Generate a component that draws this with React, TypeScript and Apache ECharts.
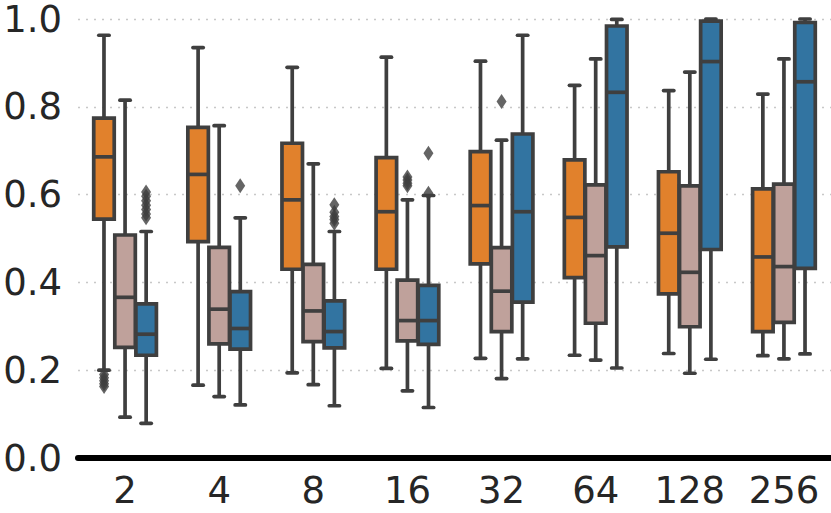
import React, { useEffect, useRef } from "react";
import * as echarts from "echarts";

const categories = ["2", "4", "8", "16", "32", "64", "128", "256"];
const yTicks = [0, 0.2, 0.4, 0.6, 0.8, 1.0];

// [lowerWhisker, q1, median, q3, upperWhisker]
const orangeBoxes = [
  [0.2, 0.544, 0.686, 0.774, 0.963],
  [0.166, 0.493, 0.646, 0.753, 0.935],
  [0.194, 0.43, 0.588, 0.717, 0.89],
  [0.204, 0.43, 0.561, 0.684, 0.913],
  [0.227, 0.442, 0.575, 0.698, 0.904],
  [0.234, 0.411, 0.548, 0.679, 0.849],
  [0.238, 0.374, 0.512, 0.652, 0.837],
  [0.233, 0.288, 0.458, 0.613, 0.829],
];
const pinkBoxes = [
  [0.093, 0.252, 0.366, 0.508, 0.815],
  [0.14, 0.26, 0.339, 0.48, 0.757],
  [0.167, 0.265, 0.335, 0.441, 0.67],
  [0.153, 0.267, 0.313, 0.405, 0.588],
  [0.181, 0.288, 0.38, 0.479, 0.724],
  [0.223, 0.307, 0.461, 0.622, 0.909],
  [0.193, 0.299, 0.423, 0.62, 0.879],
  [0.226, 0.309, 0.436, 0.624, 0.909],
];
const blueBoxes = [
  [0.079, 0.234, 0.282, 0.351, 0.516],
  [0.121, 0.248, 0.295, 0.379, 0.547],
  [0.119, 0.251, 0.288, 0.358, 0.516],
  [0.115, 0.259, 0.313, 0.393, 0.598],
  [0.226, 0.355, 0.561, 0.738, 0.963],
  [0.205, 0.481, 0.833, 0.984, 0.999],
  [0.225, 0.475, 0.903, 0.995, 1.0],
  [0.237, 0.432, 0.857, 0.992, 1.0],
];

// [categoryIndex, value]
const orangeOutliers = [
  [0, 0.19], [0, 0.183], [0, 0.176], [0, 0.169], [0, 0.163],
];
const pinkOutliers = [
  [3, 0.64], [3, 0.633], [3, 0.626], [3, 0.62],
  [4, 0.812],
];
const blueOutliers = [
  [0, 0.606], [0, 0.596], [0, 0.586], [0, 0.576], [0, 0.566], [0, 0.556], [0, 0.547],
  [1, 0.62],
  [2, 0.577], [2, 0.56], [2, 0.55], [2, 0.543], [2, 0.535],
  [3, 0.694], [3, 0.603],
];

const LINE = "#3f3f3f";
const FONT = "DejaVu Sans";
const LW = 3.7;

export default function App() {
  const ref = useRef<HTMLDivElement>(null);

  useEffect(() => {
    document.body.style.margin = "0";
    if (!ref.current) return;
    const chart = echarts.init(ref.current, undefined, { renderer: "svg" });

    const hues = [
      { name: "orange", color: "#e1812c", boxes: orangeBoxes, outliers: orangeOutliers, shift: -1 },
      { name: "pink", color: "#bfa19b", boxes: pinkBoxes, outliers: pinkOutliers, shift: 0 },
      { name: "blue", color: "#3274a1", boxes: blueBoxes, outliers: blueOutliers, shift: 1 },
    ];

    const series: any[] = [];
    hues.forEach((h) => {
      series.push({
        type: "custom",
        name: h.name,
        encode: { x: 0, y: [1, 2, 3, 4, 5] },
        data: h.boxes.map((b, i) => [i, ...b]),
        z: 2,
        renderItem: (params: any, api: any) => {
          const ci = api.value(0);
          const band = api.size([1, 0])[0];
          const bw = band * 0.218;
          const off = band * 0.224 * h.shift;
          const pLow = api.coord([ci, api.value(1)]);
          const pQ1 = api.coord([ci, api.value(2)]);
          const pMed = api.coord([ci, api.value(3)]);
          const pQ3 = api.coord([ci, api.value(4)]);
          const pHigh = api.coord([ci, api.value(5)]);
          const cx = pLow[0] + off;
          const capHalf = bw / 4;
          const ls = { stroke: LINE, lineWidth: LW, lineCap: "round" };
          return {
            type: "group",
            children: [
              { type: "line", shape: { x1: cx, y1: pLow[1], x2: cx, y2: pQ1[1] }, style: { ...ls, lineCap: "butt" } },
              { type: "line", shape: { x1: cx, y1: pQ3[1], x2: cx, y2: pHigh[1] }, style: { ...ls, lineCap: "butt" } },
              { type: "line", shape: { x1: cx - capHalf, y1: pLow[1], x2: cx + capHalf, y2: pLow[1] }, style: ls },
              { type: "line", shape: { x1: cx - capHalf, y1: pHigh[1], x2: cx + capHalf, y2: pHigh[1] }, style: ls },
              {
                type: "rect",
                shape: { x: cx - bw / 2, y: pQ3[1], width: bw, height: pQ1[1] - pQ3[1] },
                style: { fill: h.color, stroke: LINE, lineWidth: LW },
              },
              { type: "line", shape: { x1: cx - bw / 2, y1: pMed[1], x2: cx + bw / 2, y2: pMed[1] }, style: { ...ls, lineCap: "butt" } },
            ],
          };
        },
      });
      series.push({
        type: "scatter",
        name: h.name + " outliers",
        data: h.outliers,
        symbol: "diamond",
        symbolSize: [10, 15],
        symbolOffset: [h.shift * 21, 0],
        itemStyle: { color: LINE },
        z: 3,
      });
    });

    chart.setOption({
      animation: false,
      backgroundColor: "#ffffff",
      grid: { left: 78, right: 0, top: 19, bottom: 55, containLabel: false },
      xAxis: {
        type: "category",
        data: categories,
        axisTick: { show: false },
        axisLine: { show: true, lineStyle: { color: "#000000", width: 6 } },
        axisLabel: { color: "#262626", fontSize: 37, fontFamily: FONT, margin: 14 },
        splitLine: { show: false },
        z: 5,
      },
      yAxis: {
        type: "value",
        min: 0,
        max: 1,
        interval: 0.2,
        axisLine: { show: false },
        axisTick: { show: false },
        axisLabel: {
          color: "#262626",
          fontSize: 37,
          lineHeight: 30,
          fontFamily: FONT,
          margin: 16,
          formatter: (v: number) => {
            const t = yTicks.find((y) => Math.abs(y - v) < 1e-9);
            return (t !== undefined ? t : v).toFixed(1);
          },
        },
        splitLine: { show: true, lineStyle: { color: "#c8c8c8", width: 1.4, type: [2, 6] } },
      },
      series,
    });

    return () => chart.dispose();
  }, []);

  return <div ref={ref} style={{ width: 831, height: 513 }} />;
}
